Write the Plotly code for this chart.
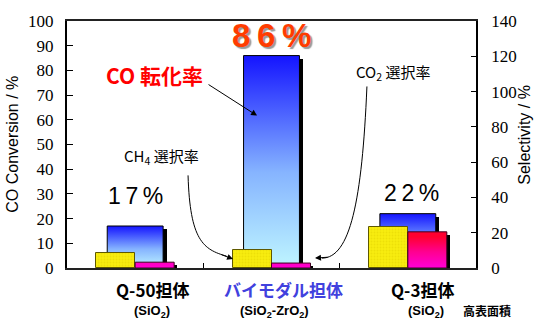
import plotly.graph_objects as go

# Catalyst supports and their measured performance
categories = ["Q-50担体", "バイモダル担体", "Q-3担体"]
sub_labels = ["(SiO<sub>2</sub>)", "(SiO<sub>2</sub>-ZrO<sub>2</sub>)", "(SiO<sub>2</sub>)"]
co_conversion = [17, 86, 22]          # CO conversion / %  (left axis)
ch4_selectivity = [8.3, 10.0, 23.2]   # CH4 selectivity / %  (right axis)
co2_selectivity = [3.3, 2.8, 20.5]    # CO2 selectivity / %  (right axis)

centers = [i + 0.5 for i in range(len(categories))]
BLUE_W = 0.41
SIDE_W = 0.286

fig = go.Figure()

# drop shadows behind the CO conversion bars
fig.add_trace(go.Bar(
    x=centers, y=[v - 1.2 for v in co_conversion], base=0,
    width=BLUE_W, offset=-BLUE_W / 2 + 0.025,
    marker=dict(color="black", line=dict(width=0)),
    hoverinfo="skip", showlegend=False, yaxis="y"))

# CO conversion bars with a vertical blue gradient
for c, v in zip(centers, co_conversion):
    l, r = c - BLUE_W / 2, c + BLUE_W / 2
    fig.add_trace(go.Scatter(
        x=[l, r, r, l, l], y=[0, 0, v, v, 0], mode="lines", fill="toself",
        line=dict(color="black", width=1),
        fillgradient=dict(type="vertical",
                          colorscale=[[0, "#bff6ff"], [0.45, "#86b4ff"], [1, "#1414ff"]]),
        hoverinfo="skip", showlegend=False, yaxis="y"))

# shadows for the selectivity bars
fig.add_trace(go.Bar(
    x=centers, y=[v - 1.6 for v in co2_selectivity], base=0,
    width=SIDE_W, offset=0.022,
    marker=dict(color="black", line=dict(width=0)),
    hoverinfo="skip", showlegend=False, yaxis="y2"))

# CH4 selectivity bars (finely dotted yellow)
fig.add_trace(go.Bar(
    x=centers, y=ch4_selectivity, base=0,
    width=SIDE_W, offset=-SIDE_W,
    marker=dict(color="#f8ec10", line=dict(color="#5e5800", width=1),
                pattern=dict(shape=".", fgcolor="#e2d400", size=3, solidity=0.3)),
    hoverinfo="skip", showlegend=False, yaxis="y2"))

# CO2 selectivity bars (red to magenta gradient)
for c, v in zip(centers, co2_selectivity):
    l, r = c, c + SIDE_W
    fig.add_trace(go.Scatter(
        x=[l, r, r, l, l], y=[0, 0, v, v, 0], mode="lines", fill="toself",
        line=dict(color="#400020", width=1),
        fillgradient=dict(type="vertical", start=0, stop=max(co2_selectivity),
                          colorscale=[[0, "#ff00f0"], [0.6, "#ff0090"], [1, "#ff0030"]]),
        hoverinfo="skip", showlegend=False, yaxis="y2"))

annotations = []

# value labels over the conversion bars
THIN = "\u2009"
pct_shift = [15, 0, 6]
for i, (c, v) in enumerate(zip(centers, co_conversion)):
    txt = THIN.join(str(v)) + THIN + "%"
    if v == max(co_conversion):
        annotations.append(dict(
            x=c, y=v, xref="x", yref="y", text="<b>" + txt + "</b>", showarrow=False,
            yanchor="bottom", yshift=pct_shift[i],
            font=dict(family="Liberation Sans", size=33,
                      color="#ff3c00", shadow="2px 2px 1px #9a9a9a")))
    else:
        annotations.append(dict(
            x=c + (0.03 if i == 2 else 0), y=v, xref="x", yref="y", text=txt, showarrow=False,
            yanchor="bottom", yshift=pct_shift[i],
            font=dict(family="Liberation Sans", size=23, color="black")))

# series captions
annotations += [
    dict(x=0.64, y=78, xref="x", yref="y", text="<b>CO 転化率</b>", showarrow=False,
         font=dict(family="Noto Sans CJK JP", size=21, color="#ff0000")),
    dict(x=0.69, y=45, xref="x", yref="y", text="CH<sub>4</sub> 選択率", showarrow=False,
         font=dict(family="Noto Sans CJK JP", size=15, color="black")),
    dict(x=2.39, y=79, xref="x", yref="y", text="CO<sub>2</sub> 選択率", showarrow=False,
         font=dict(family="Noto Sans CJK JP", size=15, color="black")),
]

# arrows: straight one to the conversion bar, heads for the curved ones
annotations += [
    dict(x=1.394, y=61.7, xref="x", yref="y", ax=-50, ay=-32, showarrow=True,
         arrowhead=2, arrowsize=1.2, arrowwidth=1, arrowcolor="black", text=""),
    dict(x=1.218, y=3.6, xref="x", yref="y", ax=-13, ay=-5, showarrow=True,
         arrowhead=2, arrowsize=1.2, arrowwidth=1, arrowcolor="black", text=""),
    dict(x=1.819, y=4.0, xref="x", yref="y", ax=14, ay=-1, showarrow=True,
         arrowhead=2, arrowsize=1.2, arrowwidth=1, arrowcolor="black", text=""),
]

# category labels under the axis
label_dx = [0.125, 0.09, 0.105]
sub_dx = [0.125, 0.02, 0.135]
for i, c in enumerate(centers):
    color = "#4141de" if i == 1 else "black"
    annotations.append(dict(
        x=c + label_dx[i], y=-0.088, xref="x", yref="paper", text="<b>" + categories[i] + "</b>",
        showarrow=False, xanchor="center", yanchor="middle",
        font=dict(family="Noto Sans CJK JP", size=17, color=color)))
    annotations.append(dict(
        x=c + sub_dx[i], y=-0.175, xref="x", yref="paper", text="<b>" + sub_labels[i] + "</b>",
        showarrow=False, xanchor="center", yanchor="middle",
        font=dict(family="Liberation Sans", size=13, color="black")))
annotations.append(dict(
    x=1.027, y=-0.172, xref="paper", yref="paper", text="<b>高表面積</b>", showarrow=False,
    xanchor="center", yanchor="middle",
    font=dict(family="Noto Sans CJK JP", size=12, color="black")))

# axis titles
annotations += [
    dict(xref="paper", yref="paper", x=-0.134, y=0.5, text="CO Conversion / %", textangle=-90,
         showarrow=False, xanchor="center", yanchor="middle",
         font=dict(family="Liberation Sans", size=16, color="black")),
    dict(xref="paper", yref="paper", x=1.12, y=0.54, text="Selectivity / %", textangle=-90,
         showarrow=False, xanchor="center", yanchor="middle",
         font=dict(family="Liberation Sans", size=16, color="black")),
]

shapes = [
    # curved pointer from the CH4 caption
    dict(type="path", xref="x", yref="y",
         path="M 0.888 37.5 C 0.902 11.1, 1.0 7.5, 1.17 4.8",
         line=dict(color="black", width=1)),
    # curved pointer from the CO2 caption
    dict(type="path", xref="x", yref="y",
         path="M 2.2 73.5 C 2.164 26.9, 2.076 4.0, 1.87 4.0",
         line=dict(color="black", width=1)),
]

tick_font = dict(family="Liberation Serif", size=17, color="black")
fig.update_layout(
    width=537, height=326,
    margin=dict(l=67, r=61, t=15, b=58),
    plot_bgcolor="white", paper_bgcolor="white",
    barmode="overlay", bargap=0,
    showlegend=False,
    xaxis=dict(range=[0, 3], tickvals=[1, 2], ticks="inside", ticklen=5, tickcolor="black",
               showticklabels=False, showgrid=False, zeroline=False,
               showline=True, linecolor="#222", linewidth=2, mirror=True),
    yaxis=dict(range=[0, 100], dtick=10, ticks="inside", ticklen=6, tickcolor="black",
               tickfont=tick_font, ticklabelstandoff=8, showgrid=False, zeroline=False,
               showline=True, linecolor="black", linewidth=2),
    yaxis2=dict(range=[0, 140], dtick=20, overlaying="y", side="right",
                ticks="inside", ticklen=5, tickcolor="black", tickfont=tick_font,
                ticklabelstandoff=10, showgrid=False, zeroline=False,
                showline=True, linecolor="black", linewidth=1.5),
    annotations=annotations,
    shapes=shapes,
)

fig.write_html("out.html")
